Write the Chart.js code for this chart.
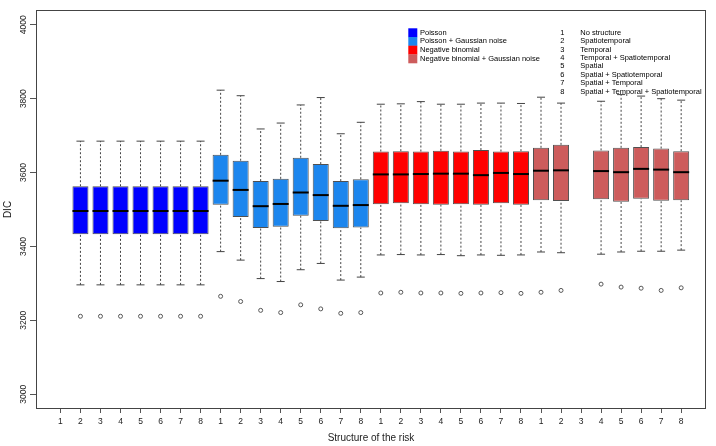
<!DOCTYPE html>
<html><head><meta charset="utf-8">
<script src="https://cdn.jsdelivr.net/npm/chart.js@4/dist/chart.umd.min.js"></script>
<style>html,body{margin:0;padding:0;background:#fff;}canvas{display:block;}</style>
</head><body>
<canvas id="c" width="716" height="446"></canvas>
<script>
const groupNames = ['Poisson', 'Poisson + Gaussian noise', 'Negative binomial', 'Negative binomial + Gaussian noise'];
const groupColors = ['#0000FF', '#1C86EE', '#FF0000', '#CD5C5C'];
const structureIds = ['1','2','3','4','5','6','7','8'];
const structureNames = ['No structure', 'Spatiotemporal', 'Temporal', 'Temporal + Spatiotemporal', 'Spatial', 'Spatial + Spatiotemporal', 'Spatial + Temporal', 'Spatial + Temporal + Spatiotemporal'];
const positions = [1,2,3,4,5,6,7,8, 9,10,11,12,13,14,15,16, 17,18,19,20,21,22,23,24, 25,26,27,28,29,30,31,32];
const tickLabels = ['1','2','3','4','5','6','7','8', '1','2','3','4','5','6','7','8', '1','2','3','4','5','6','7','8', '1','2','3','4','5','6','7','8'];
const groupIndex = [0,0,0,0,0,0,0,0, 1,1,1,1,1,1,1,1, 2,2,2,2,2,2,2,2, 3,3,3,3,3,3,3,3];
const yTicks = [3000, 3200, 3400, 3600, 3800, 4000];

const whiskerHigh = [null,3685,3685,3685,3685,3685,3685,3685, 3823,3808,3718,3734,3783,3803,3705,3736, 3785,3786,3792,3785,3785,3788,3788,3787, 3804,3788,null,3793,3811,3807,3800,3796];
const q3 = [null,3563,3563,3563,3563,3563,3563,3563, 3648,3632,3577,3583,3640,3623,3577,3582, 3657,3658,3657,3659,3657,3661,3657,3658, 3667,3675,null,3660,3667,3669,3665,3658];
const median = [null,3496,3496,3496,3496,3496,3496,3496, 3578,3553,3509,3515,3546,3539,3510,3512, 3595,3595,3596,3597,3597,3593,3599,3596, 3605,3606,null,3604,3601,3610,3608,3601];
const q1 = [null,3433,3433,3433,3433,3433,3433,3433, 3513,3480,3450,3453,3483,3469,3449,3451, 3514,3517,3514,3513,3514,3513,3517,3513, 3525,3523,null,3528,3521,3529,3524,3525];
const whiskerLow = [null,3296,3296,3296,3296,3296,3296,3296, 3386,3363,3313,3305,3337,3354,3309,3317, 3377,3378,3377,3378,3375,3377,3376,3377, 3385,3383,null,3379,3385,3387,3387,3390];
const outlier = [null,3211,3211,3211,3211,3211,3211,3211, 3265,3251,3227,3221,3242,3231,3219,3221, 3274,3276,3274,3274,3273,3274,3275,3273, 3276,3281,null,3298,3290,3287,3281,3288];

const present = positions.map((p, i) => q1[i] !== null);
const boxData = [], boxColors = [], whiskerData = [], capData = [], medData = [], outData = [];
positions.forEach((p, i) => {
  if (!present[i]) return;
  boxData.push({x: p, y: [q1[i], q3[i]]});
  boxColors.push(groupColors[groupIndex[i]]);
  whiskerData.push({x: p, y: whiskerLow[i]}, {x: p, y: q1[i]}, {x: p, y: null},
                   {x: p, y: q3[i]}, {x: p, y: whiskerHigh[i]}, {x: p, y: null});
  capData.push({x: p, y: whiskerLow[i]}, {x: p, y: whiskerHigh[i]});
  medData.push({x: p, y: median[i]});
  outData.push({x: p, y: outlier[i]});
});

const FONT = '"Liberation Sans", Arial, sans-serif';

const decor = {
  id: 'decor',
  afterDraw(chart) {
    const ctx = chart.ctx, a = chart.chartArea, ys = chart.scales.y;
    ctx.save();
    // frame
    ctx.strokeStyle = '#444'; ctx.lineWidth = 1;
    ctx.strokeRect(a.left + 0.5, a.top + 0.5, a.right - a.left - 1, a.bottom - a.top - 1);
    // y tick labels (rotated)
    ctx.fillStyle = '#222';
    ctx.font = '8.5px ' + FONT;
    ctx.textAlign = 'center'; ctx.textBaseline = 'middle';
    yTicks.forEach(v => {
      const y = ys.getPixelForValue(v);
      ctx.save(); ctx.translate(24, y); ctx.rotate(-Math.PI / 2);
      ctx.fillText(String(v), 0, 0); ctx.restore();
    });
    // axis titles
    ctx.font = '10px ' + FONT;
    ctx.save(); ctx.translate(8, (a.top + a.bottom) / 2); ctx.rotate(-Math.PI / 2);
    ctx.fillText('DIC', 0, 0); ctx.restore();
    ctx.fillText('Structure of the risk', (a.left + a.right) / 2, 438);
    // legend 1
    ctx.font = '7.5px ' + FONT;
    ctx.textAlign = 'left';
    const rowH = 8.7, top0 = 28.3;
    groupNames.forEach((n, i) => {
      ctx.fillStyle = groupColors[i];
      ctx.fillRect(408.3, top0 + i * rowH, 9, rowH + 0.2);
      ctx.fillStyle = '#000';
      ctx.fillText(n, 420, top0 + i * rowH + rowH / 2);
    });
    // legend 2
    ctx.fillStyle = '#000';
    structureNames.forEach((n, i) => {
      const y = 32.7 + i * 8.43;
      ctx.textAlign = 'center';
      ctx.fillText(structureIds[i], 562.3, y);
      ctx.textAlign = 'left';
      ctx.fillText(n, 580.3, y);
    });
    ctx.restore();
  }
};

new Chart(document.getElementById('c'), {
  type: 'bar',
  data: {
    datasets: [
      { type: 'line', data: whiskerData, borderColor: '#444', borderWidth: 1, borderDash: [2, 2],
        pointRadius: 0, spanGaps: false, fill: false, order: 5 },
      { type: 'scatter', data: capData, pointStyle: 'line', pointRadius: 4, borderColor: '#444',
        borderWidth: 1, order: 4 },
      { type: 'bar', data: boxData, backgroundColor: boxColors, borderColor: '#505050', borderWidth: 1,
        borderSkipped: false, barPercentage: 0.8, categoryPercentage: 1.0, order: 3 },
      { type: 'scatter', data: medData, pointStyle: 'line', pointRadius: 8, borderColor: '#000',
        borderWidth: 2, order: 2 },
      { type: 'scatter', data: outData, pointStyle: 'circle', pointRadius: 2, borderColor: '#555',
        backgroundColor: 'rgba(0,0,0,0)', borderWidth: 1, order: 1 }
    ]
  },
  options: {
    responsive: false, animation: false, events: [],
    layout: { padding: { top: 3, right: 5, left: 0, bottom: 0 } },
    plugins: { legend: { display: false }, tooltip: { enabled: false } },
    scales: {
      x: {
        type: 'linear', min: -0.22, max: 33.24, offset: false,
        afterBuildTicks: s => { s.ticks = positions.map(v => ({ value: v })); },
        afterFit: s => { s.height = 37; },
        grid: { drawOnChartArea: false, drawTicks: true, tickLength: 4, tickColor: '#555', offset: false },
        border: { display: false },
        ticks: { autoSkip: false, maxRotation: 0, minRotation: 0, padding: 4, color: '#222',
          font: { size: 8.5, family: FONT },
          callback: (v, i) => tickLabels[i] }
      },
      y: {
        type: 'linear', min: 2960, max: 4040,
        afterBuildTicks: s => { s.ticks = yTicks.map(v => ({ value: v })); },
        afterFit: s => { s.width = 36; },
        grid: { drawOnChartArea: false, drawTicks: true, tickLength: 6, tickColor: '#555' },
        border: { display: false },
        ticks: { display: false }
      }
    }
  },
  plugins: [decor]
});
</script>
</body></html>
